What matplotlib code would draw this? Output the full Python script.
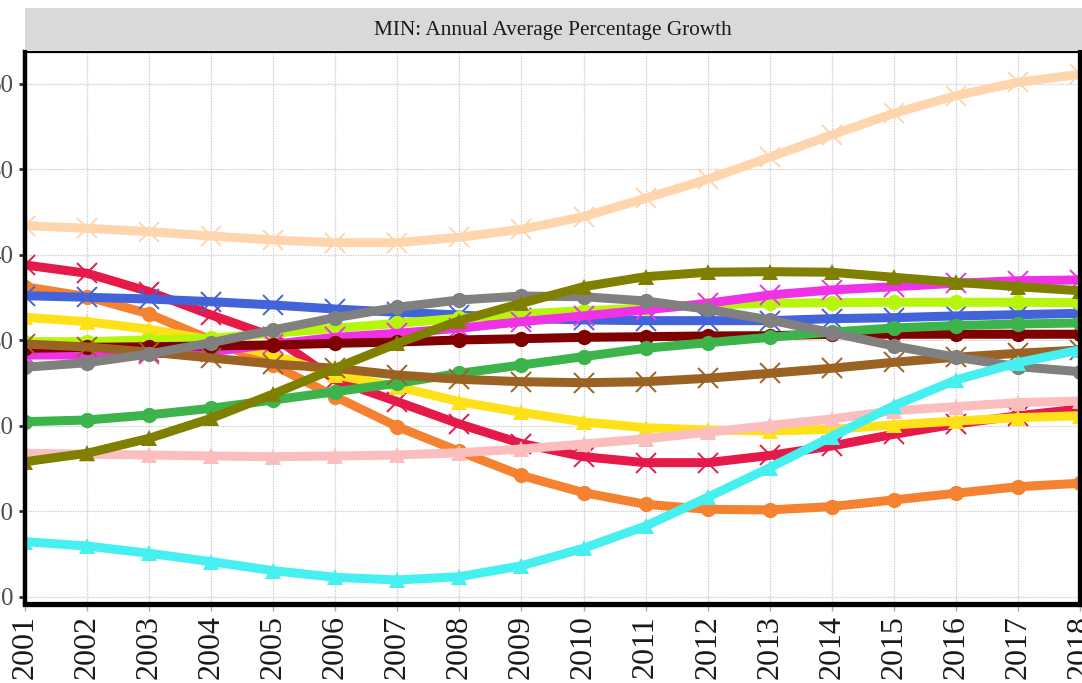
import matplotlib
matplotlib.use("Agg")
import matplotlib.pyplot as plt
from matplotlib.patches import Rectangle

years = list(range(2001, 2019))

peach = [43.43, 43.12, 42.73, 42.22, 41.75, 41.44, 41.44, 42.07, 43.01, 44.48,
         46.63, 48.85, 51.43, 54.04, 56.57, 58.63, 60.20, 61.13]
crimson = [38.83, 37.86, 35.71, 32.98, 30.44, 25.38, 22.84, 20.23, 17.95, 16.41,
           15.71, 15.71, 16.55, 17.66, 19.03, 20.23, 21.20, 21.99]
orange = [36.29, 35.12, 33.10, 30.06, 27.13, 23.43, 19.92, 17.02, 14.21, 12.20,
          10.84, 10.26, 10.18, 10.58, 11.35, 12.13, 12.90, 13.30]
blue = [35.24, 35.05, 34.85, 34.54, 34.15, 33.68, 33.30, 32.98, 32.60, 32.40,
        32.32, 32.32, 32.32, 32.55, 32.67, 32.87, 33.02, 33.18]
yellow = [32.71, 32.20, 31.31, 30.06, 28.30, 25.96, 24.60, 22.84, 21.60, 20.47,
          19.80, 19.53, 19.42, 19.61, 20.12, 20.58, 20.97, 21.20]
lime = [29.86, 29.86, 30.06, 30.26, 30.84, 31.43, 32.01, 32.60, 33.10, 33.49,
        33.77, 34.15, 34.35, 34.42, 34.47, 34.47, 34.47, 34.42]
magenta = [28.30, 28.30, 28.42, 28.69, 29.56, 30.37, 30.84, 31.43, 32.20, 32.87,
           33.57, 34.35, 35.32, 35.91, 36.29, 36.69, 36.99, 37.08]
maroon = [29.09, 29.20, 29.27, 29.36, 29.47, 29.67, 29.82, 30.06, 30.21, 30.37,
          30.44, 30.53, 30.56, 30.73, 30.73, 30.73, 30.73, 30.73]
gray = [26.87, 27.40, 28.42, 29.74, 31.23, 32.67, 33.88, 34.74, 35.20, 35.12,
        34.62, 33.65, 32.40, 30.91, 29.36, 28.04, 26.94, 26.35]
brown = [29.59, 29.24, 28.65, 27.95, 27.25, 26.75, 25.96, 25.46, 25.18, 25.06,
         25.18, 25.58, 26.16, 26.75, 27.45, 28.04, 28.50, 28.89]
olive = [15.82, 16.81, 18.56, 20.90, 23.74, 26.75, 29.67, 32.32, 34.35, 36.29,
         37.46, 37.98, 38.05, 37.98, 37.39, 36.81, 36.29, 35.82]
green = [20.50, 20.70, 21.29, 22.07, 23.04, 24.01, 24.99, 26.16, 27.13, 28.11,
         29.09, 29.74, 30.37, 30.99, 31.46, 31.75, 31.93, 32.05]
pink = [16.81, 16.69, 16.61, 16.49, 16.41, 16.49, 16.61, 16.87, 17.31, 17.89,
        18.50, 19.27, 20.06, 20.82, 21.79, 22.26, 22.73, 22.92]
cyan = [6.47, 5.96, 5.11, 4.13, 3.08, 2.30, 1.99, 2.37, 3.66, 5.70,
        8.30, 11.66, 15.12, 18.75, 22.37, 25.38, 27.40, 28.89]

y_ticks = [0, 10, 20, 30, 40, 50, 60]
title = "MIN: Annual Average Percentage Growth"

# (values, colour, marker) in drawing order
series = [
    (peach, "#FFD5AE", "x"),
    (crimson, "#E6194B", "x"),
    (orange, "#F58231", "o"),
    (yellow, "#FFE119", "^"),
    (blue, "#4363D8", "x"),
    (lime, "#B8F50C", "o"),
    (magenta, "#F032E6", "x"),
    (maroon, "#800000", "o"),
    (green, "#3CB44B", "o"),
    (brown, "#9A6324", "x"),
    (pink, "#FABEBE", "^"),
    (gray, "#808080", "o"),
    (olive, "#808000", "^"),
    (cyan, "#46F0F0", "^"),
]

plt.rcParams["font.family"] = ["Liberation Serif", "DejaVu Serif"]

W, H = 1082, 683
fig = plt.figure(figsize=(W / 100, H / 100), dpi=100)
ax = fig.add_axes([25 / W, 1 - 604 / H, 1055 / W, 552 / H])

for vals, col, mk in series:
    if mk == "x":
        ms, mew = 14, 1.4
    elif mk == "o":
        ms, mew = 11, 0
    else:
        ms, mew = 12, 0
    ax.plot(years, vals, color=col, lw=6.5, marker=mk, ms=ms, mew=mew,
            mec=col, mfc=col, solid_joinstyle="round", solid_capstyle="butt",
            clip_on=True)

ax.set_xlim(2001, 2018)
ax.set_ylim(-0.82, 63.74)
ax.set_xticks(years)
ax.set_xticklabels([str(y) for y in years], rotation=90, fontsize=23,
                   color="#1a1a1a")
ax.set_yticks(y_ticks)
ax.set_yticklabels([str(v) for v in y_ticks], fontsize=18, color="#4d4d4d")

ax.grid(True, color="#c8c8c8", linestyle=(0, (1, 1)), linewidth=0.9)
ax.set_axisbelow(True)

ax.tick_params(axis="y", length=4, width=2, color="#333333", pad=4)
ax.tick_params(axis="x", length=5, width=1, color="#aaaaaa", pad=3)

ax.spines["left"].set_linewidth(3.2)
ax.spines["bottom"].set_linewidth(3.8)
ax.spines["right"].set_linewidth(3.8)
ax.spines["top"].set_linewidth(1.6)
for s in ax.spines.values():
    s.set_color("black")

# title strip above the panel
strip = Rectangle((25 / W, 1 - 50 / H), 1 - 25 / W, 42 / H,
                  transform=fig.transFigure, facecolor="#d9d9d9",
                  edgecolor="none")
fig.add_artist(strip)
fig.text((25 + 1080) / 2 / W, 1 - 30 / H, title, ha="center", va="center",
         fontsize=15.3, color="#1a1a1a")

fig.savefig("out.png", dpi=100)
